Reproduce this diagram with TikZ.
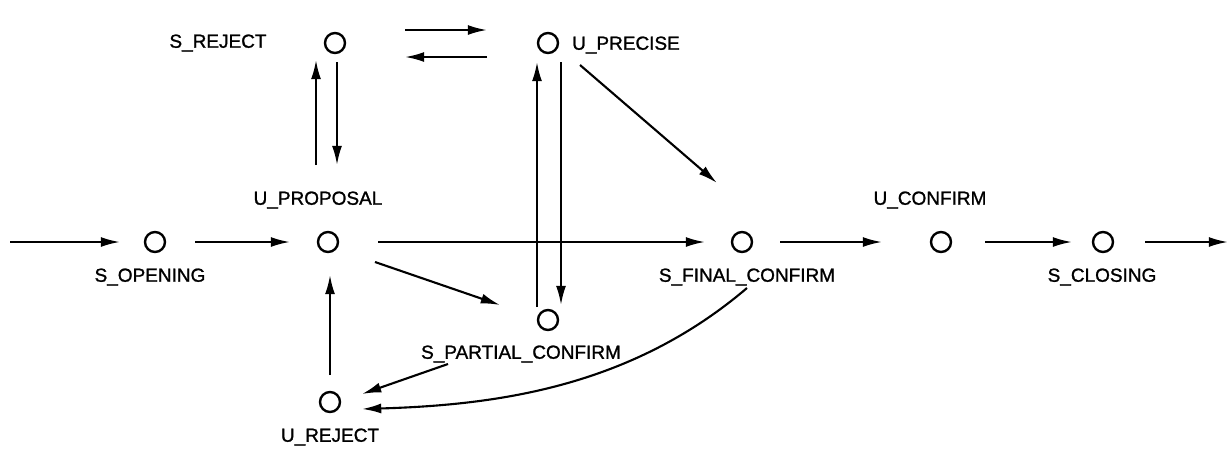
\documentclass[tikz,border=0pt]{standalone}
\usepackage{fontspec}
\setmainfont{Liberation Sans}
\usetikzlibrary{arrows.meta, calc, positioning}

\begin{document}
\begin{tikzpicture}[x=0.025cm, y=-0.025cm]
  \tikzset{
    state/.style={circle, draw, line width=1.7pt, minimum size=0.5cm, inner sep=0pt},
    statename/.style={font=\fontsize{13.5}{16}\selectfont\addfontfeature{FakeBold=1.2}, inner sep=0pt},
    move/.style={line width=1.5pt, -{Latex[length=0.48cm, width=0.25cm]}}
  }
  \useasboundingbox (0,0) rectangle (1231,463);

  % States
  \node[state] (sopen) at (155,242) {};
  \node[state] (uprop) at (328,242) {};
  \node[state] (srej)  at (335,43) {};
  \node[state] (uprec) at (548,43) {};
  \node[state] (spart) at (548,320) {};
  \node[state] (urej)  at (330,402) {};
  \node[state] (sfin)  at (742,242) {};
  \node[state] (ucon)  at (941,242) {};
  \node[state] (sclo)  at (1103,242) {};
  \coordinate (in)  at (10,242);
  \coordinate (out) at (1228,242);

  % State names
  \node[statename] (sopenname) at (150,277) {S\_OPENING};
  \node[statename] (upropname) at (318,200) {U\_PROPOSAL};
  \node[statename] (srejname)  at (218,43)  {S\_REJECT};
  \node[statename] (uprecname) at (626,45)  {U\_PRECISE};
  \node[statename] (spartname) at (521,354) {S\_PARTIAL\_CONFIRM};
  \node[statename] (urejname)  at (330,437) {U\_REJECT};
  \node[statename] (sfinname)  at (747,277) {S\_FINAL\_CONFIRM};
  \node[statename] (uconname)  at (930,200) {U\_CONFIRM};
  \node[statename] (scloname)  at (1102,277) {S\_CLOSING};

  % Main line
  \draw[move] (in) -- ([shift={(-35,0)}]sopen.center);
  \draw[move] ([shift={(40,0)}]sopen.center) -- ([shift={(-38,0)}]uprop.center);
  \draw[move] ([shift={(50,0)}]uprop.center) -- ([shift={(-37,0)}]sfin.center);
  \draw[move] ([shift={(38,0)}]sfin.center) -- ([shift={(-59,0)}]ucon.center);
  \draw[move] ([shift={(44,0)}]ucon.center) -- ([shift={(-31,0)}]sclo.center);
  \draw[move] ([shift={(42,0)}]sclo.center) -- (out);

  % Rejection and precision loops
  \draw[move] ([shift={(-12,-77)}]uprop.center) -- ([shift={(-19,17)}]srej.center);
  \draw[move] ([shift={(2,19)}]srej.center) -- ([shift={(9,-77)}]uprop.center);
  \draw[move] ([shift={(70,-13)}]srej.center) -- ([shift={(-61,-13)}]uprec.center);
  \draw[move] ([shift={(-61,14)}]uprec.center) -- ([shift={(70,14)}]srej.center);
  \draw[move] ([shift={(-11,-13)}]spart.center) -- ([shift={(-11,19)}]uprec.center);
  \draw[move] ([shift={(13,19)}]uprec.center) -- ([shift={(13,-15)}]spart.center);
  \draw[move] ([shift={(32,22)}]uprec.center) -- ([shift={(-25,-59)}]sfin.center);

  % Partial confirmation and user rejection
  \draw[move] ([shift={(47,20)}]uprop.center) -- ([shift={(-48,-15)}]spart.center);
  \draw[move] ([shift={(-100,44)}]spart.center) -- ([shift={(32,-8)}]urej.center);
  \draw[move] ([shift={(0,-27)}]urej.center) -- ([shift={(2,33)}]uprop.center);
  \draw[move] ([shift={(5,46)}]sfin.center) .. controls (632,386) and (500,405) .. ([shift={(32,7)}]urej.center);
\end{tikzpicture}
\end{document}
